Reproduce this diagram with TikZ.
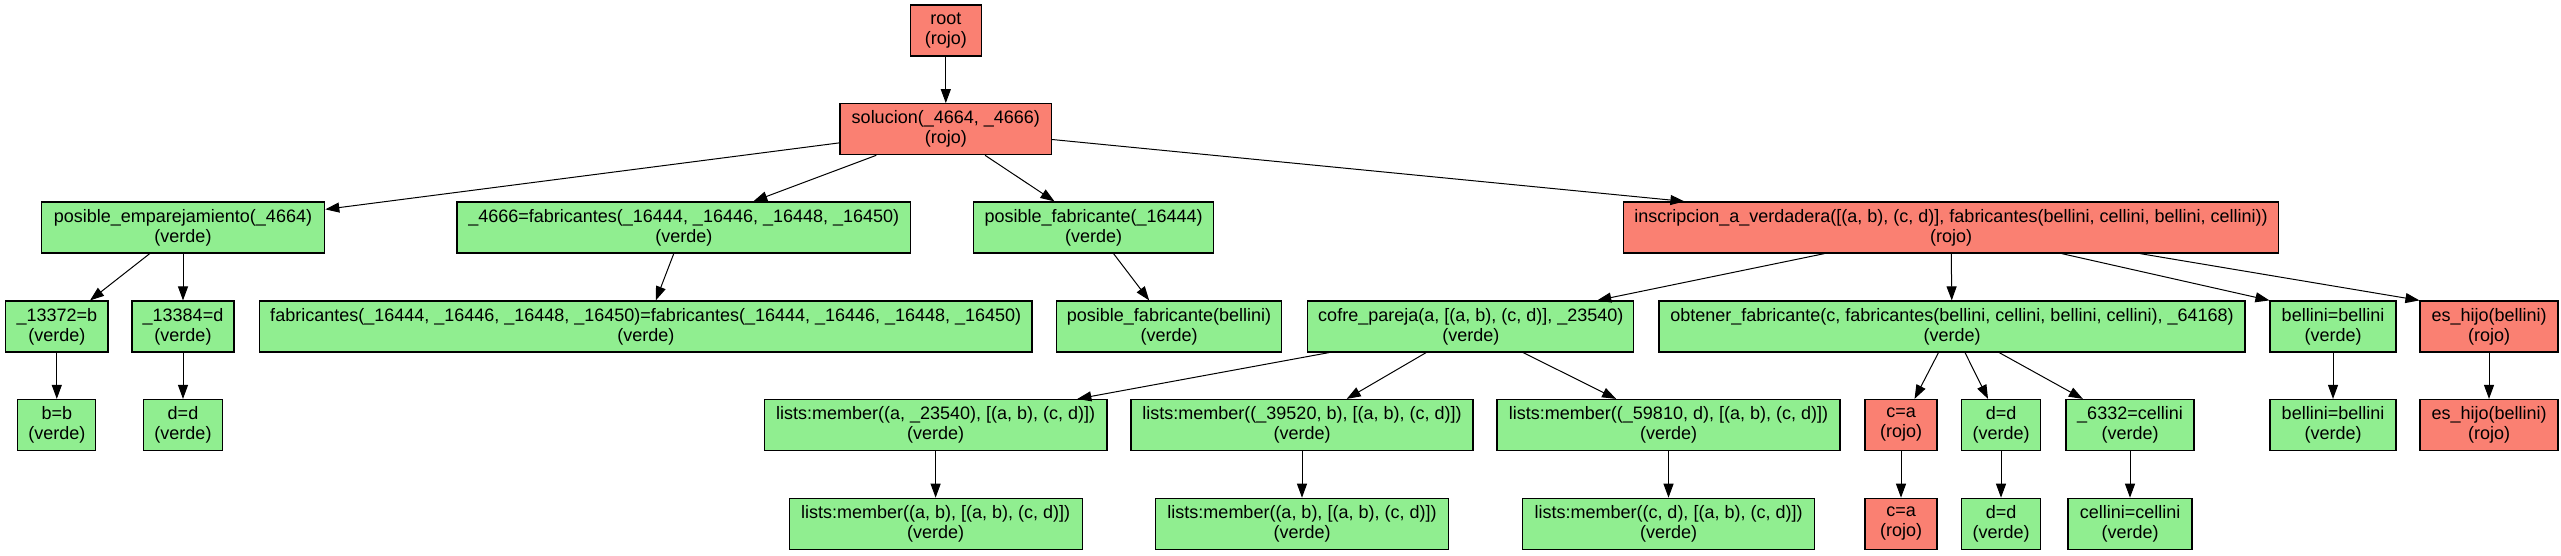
\documentclass[tikz,border=0pt]{standalone}
\usepackage{fontspec}
\setmainfont{Liberation Sans}
\usetikzlibrary{arrows.meta,calc}
\definecolor{rojo}{HTML}{FA8072}
\definecolor{verde}{HTML}{90EE90}
\begin{document}
\begin{tikzpicture}[x=1pt,y=-1pt,
  box/.style={draw=black, line width=1.2pt, rectangle, inner sep=0pt, minimum height=51pt,
    align=center, font=\fontsize{18}{20}\selectfont},
  gbox/.style={box, fill=verde},
  rbox/.style={box, fill=rojo},
  edge/.style={line width=1pt, -{Triangle[length=14pt,width=10pt]}}]
\useasboundingbox (0,0) rectangle (2561,555);
% row 0
\node[rbox, minimum width=71pt] (root) at (945.8,30.4) {root\\(rojo)};
% row 1
\node[rbox, minimum width=211.5pt] (sol) at (945.8,129.2) {solucion(\_4664, \_4666)\\(rojo)};
% row 2
\node[gbox, minimum width=283.4pt] (pe) at (183,227.5) {posible\_emparejamiento(\_4664)\\(verde)};
\node[gbox, minimum width=453.6pt] (f4666) at (683.8,227.5) {\_4666=fabricantes(\_16444, \_16446, \_16448, \_16450)\\(verde)};
\node[gbox, minimum width=240pt] (pf) at (1093.7,227.5) {posible\_fabricante(\_16444)\\(verde)};
\node[rbox, minimum width=655pt] (insc) at (1951,227.5) {inscripcion\_a\_verdadera([(a, b), (c, d)], fabricantes(bellini, cellini, bellini, cellini))\\(rojo)};
% row 3
\node[gbox, minimum width=102.4pt] (n13372) at (56.8,326.5) {\_13372=b\\(verde)};
\node[gbox, minimum width=102pt] (n13384) at (183,326.5) {\_13384=d\\(verde)};
\node[gbox, minimum width=772.4pt] (fabeq) at (645.8,326.5) {fabricantes(\_16444, \_16446, \_16448, \_16450)=fabricantes(\_16444, \_16446, \_16448, \_16450)\\(verde)};
\node[gbox, minimum width=225pt] (pfb) at (1169,326.5) {posible\_fabricante(bellini)\\(verde)};
\node[gbox, minimum width=326pt] (cofre) at (1470.8,326.5) {cofre\_pareja(a, [(a, b), (c, d)], \_23540)\\(verde)};
\node[gbox, minimum width=586pt] (obt) at (1952,326.5) {obtener\_fabricante(c, fabricantes(bellini, cellini, bellini, cellini), \_64168)\\(verde)};
\node[gbox, minimum width=126pt] (bb) at (2333,326.5) {bellini=bellini\\(verde)};
\node[rbox, minimum width=138pt] (eh) at (2489,326.5) {es\_hijo(bellini)\\(rojo)};
% row 4
\node[gbox, minimum width=78pt] (bb4) at (56.8,425) {b=b\\(verde)};
\node[gbox, minimum width=78.6pt] (ddl) at (183,425) {d=d\\(verde)};
\node[gbox, minimum width=342.7pt] (lm1) at (935.6,425) {lists:member((a, \_23540), [(a, b), (c, d)])\\(verde)};
\node[gbox, minimum width=342pt] (lm2) at (1302,425) {lists:member((\_39520, b), [(a, b), (c, d)])\\(verde)};
\node[gbox, minimum width=343pt] (lm3) at (1668.5,425) {lists:member((\_59810, d), [(a, b), (c, d)])\\(verde)};
\node[rbox, minimum width=72pt] (ca) at (1901,425) {c=a\\(rojo)};
\node[gbox, minimum width=78.5pt] (dd) at (2001,425) {d=d\\(verde)};
\node[gbox, minimum width=128pt] (c6332) at (2130,425) {\_6332=cellini\\(verde)};
\node[gbox, minimum width=126pt] (bb2) at (2333,425) {bellini=bellini\\(verde)};
\node[rbox, minimum width=138pt] (eh2) at (2489,425) {es\_hijo(bellini)\\(rojo)};
% row 5
\node[gbox, minimum width=293pt] (lmb1) at (935.6,523.8) {lists:member((a, b), [(a, b), (c, d)])\\(verde)};
\node[gbox, minimum width=293pt] (lmb2) at (1302,523.8) {lists:member((a, b), [(a, b), (c, d)])\\(verde)};
\node[gbox, minimum width=292pt] (lmb3) at (1668.5,523.8) {lists:member((c, d), [(a, b), (c, d)])\\(verde)};
\node[rbox, minimum width=72pt] (ca2) at (1901,523.8) {c=a\\(rojo)};
\node[gbox, minimum width=78.5pt] (dd2) at (2001,523.8) {d=d\\(verde)};
\node[gbox, minimum width=124pt] (cc) at (2130,523.8) {cellini=cellini\\(verde)};
% edges
\draw[edge] (root) -- (sol);
\draw[edge] (sol) -- (pe);
\draw[edge] (sol) -- (f4666);
\draw[edge] (sol) -- (pf);
\draw[edge] (sol) -- (insc);
\draw[edge] (pe) -- (n13372);
\draw[edge] (pe) -- (n13384);
\draw[edge] (n13372) -- (bb4);
\draw[edge] (n13384) -- (ddl);
\draw[edge] (f4666) -- (fabeq);
\draw[edge] (pf) -- (pfb);
\draw[edge] (insc) -- (cofre);
\draw[edge] (insc) -- (obt);
\draw[edge] ($(insc.south)+(110.7,0)$) -- (bb.north west);
\draw[edge] ($(insc.south)+(189,0)$) -- (eh.north west);
\draw[edge] (cofre) -- (lm1);
\draw[edge] (cofre) -- (lm2);
\draw[edge] (cofre) -- (lm3);
\draw[edge] (obt) -- (ca);
\draw[edge] (obt) -- (dd);
\draw[edge] (obt) -- (c6332);
\draw[edge] (bb) -- (bb2);
\draw[edge] (eh) -- (eh2);
\draw[edge] (lm1) -- (lmb1);
\draw[edge] (lm2) -- (lmb2);
\draw[edge] (lm3) -- (lmb3);
\draw[edge] (ca) -- (ca2);
\draw[edge] (dd) -- (dd2);
\draw[edge] (c6332) -- (cc);
\end{tikzpicture}
\end{document}
